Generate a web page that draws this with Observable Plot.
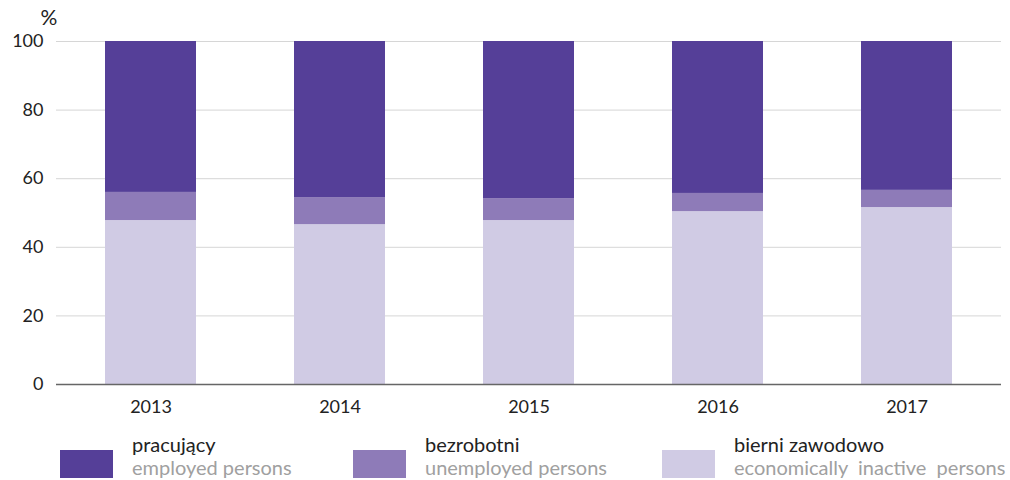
<!DOCTYPE html>
<html>
<head>
<meta charset="utf-8">
<script src="https://cdn.jsdelivr.net/npm/d3@7"></script>
<script src="https://cdn.jsdelivr.net/npm/@observablehq/plot@0.6"></script>
<style>
  body { margin: 0; background: #fff; font-family: Lato, "Open Sans", sans-serif; }
  #chart svg { display: block; }
  .legend { position: relative; height: 55px; }
  .item { position: absolute; top: 8px; display: flex; align-items: flex-start; }
  .sw { width: 53px; height: 28px; margin-top: 17px; }
  .lbl { margin-left: 19px; font-size: 20px; line-height: 23px; color: #222; }
  .lbl .en { color: #a0a0a0; }
</style>
</head>
<body>
<div id="chart"></div>
<div class="legend" id="legend"></div>
<script>
const years = ["2013", "2014", "2015", "2016", "2017"];
const inactive = [47.8, 46.6, 47.8, 50.4, 51.6];
const unemployed = [8.2, 7.9, 6.4, 5.3, 5.0];
const employed = [44.0, 45.5, 45.8, 44.3, 43.4];
const seriesPl = ["bierni zawodowo", "bezrobotni", "pracujący"];
const seriesEn = ["economically  inactive  persons", "unemployed persons", "employed persons"];
const colors = ["#d0cbe4", "#8e7bb8", "#553f98"];
const yTicks = [0, 20, 40, 60, 80, 100];
const unitLabel = "%";

const values = [inactive, unemployed, employed];
const data = [];
seriesPl.forEach((s, i) => years.forEach((y, j) => data.push({year: y, series: s, value: values[i][j]})));

const chart = Plot.plot({
  width: 1010,
  height: 425,
  marginLeft: 56,
  marginRight: 9,
  marginTop: 41,
  marginBottom: 41,
  style: {fontFamily: "Lato, 'Open Sans', sans-serif", fontSize: "18px", color: "#222"},
  x: {domain: years, paddingInner: 0.52, paddingOuter: 0.26, label: null},
  y: {domain: [0, 100], label: null},
  color: {domain: seriesPl, range: colors},
  marks: [
    Plot.gridY(yTicks, {stroke: "#d6d6d6", strokeOpacity: 1}),
    Plot.barY(data, {x: "year", y: "value", fill: "series", order: seriesPl}),
    Plot.ruleY([0], {stroke: "#666", strokeWidth: 1.3}),
    Plot.axisY(yTicks, {tickSize: 0, tickPadding: 13, label: null, fill: "#222"}),
    Plot.text([unitLabel], {frameAnchor: "top-left", textAnchor: "start", lineAnchor: "middle", dx: -16, dy: -23, fill: "#222", fontSize: 21}),
    Plot.axisX({tickSize: 0, tickPadding: 16, label: null, fill: "#222"})
  ]
});
document.getElementById("chart").appendChild(chart);

const legend = document.getElementById("legend");
const order = [2, 1, 0];
const lefts = [60, 353, 662];
order.forEach((i, k) => {
  const item = document.createElement("div");
  item.className = "item";
  item.style.left = lefts[k] + "px";
  item.innerHTML = `<div class="sw" style="background:${colors[i]}"></div><div class="lbl"><div>${seriesPl[i]}</div><div class="en" style="white-space:pre">${seriesEn[i]}</div></div>`;
  legend.appendChild(item);
});
</script>
</body>
</html>
